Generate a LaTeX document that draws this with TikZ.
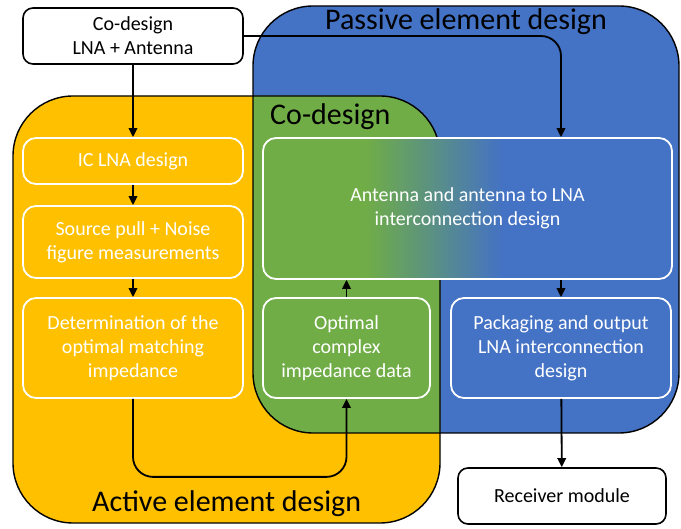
\documentclass[tikz,border=0pt]{standalone}
\usepackage{fontspec}
\setmainfont{Carlito}
\usetikzlibrary{arrows.meta,calc}

\definecolor{actyellow}{HTML}{FFC000}
\definecolor{cogreen}{HTML}{70AD47}
\definecolor{pasblue}{HTML}{4472C4}

\tikzset{
  bodytext/.style={font=\fontsize{20}{24}\selectfont, align=center},
  headtext/.style={font=\fontsize{30}{34}\selectfont, text=black, inner sep=0pt, anchor=base west},
  whitebox/.style={bodytext, draw=black, line width=1.6pt, fill=white,
    rounded corners=10pt, inner sep=0pt, text=black},
  stagebox/.style={bodytext, draw=white, line width=1.8pt,
    rounded corners=13pt, inner sep=0pt, text=white},
  arr/.style={line width=1.8pt, -{Triangle[length=9pt,width=8.5pt]}},
  frame/.style={line width=1.4pt, rounded corners=60pt}
}

\begin{document}
\begin{tikzpicture}[x=1pt,y=-1pt]
\useasboundingbox (0,0) rectangle (681,529);

% design domains: passive (blue), active (yellow) and their overlap (green)
\def\passiveframe{(253,6) rectangle (679,433)}
\def\activeframe{(13,96) rectangle (440,523)}
\fill[pasblue, frame] \passiveframe;
\fill[actyellow, frame] \activeframe;
\begin{scope}
  \clip[rounded corners=60pt] \activeframe;
  \fill[cogreen, frame] \passiveframe;
\end{scope}
\draw[frame] \passiveframe;
\draw[frame] \activeframe;

% domain titles
\node[headtext] (tpas) at (325,30) {Passive element design};
\node[headtext] (tco) at (270,125) {Co-design};
\node[headtext] (tact) at (92,512) {Active element design};

% start and end blocks
\node[whitebox, minimum width=220pt, minimum height=56pt] (cd) at (133,36)
  {Co-design\\LNA + Antenna};
\node[whitebox, minimum width=208pt, minimum height=56pt] (rx) at (562,496)
  {Receiver module};

% active chain
\node[stagebox, fill=actyellow, minimum width=220pt, minimum height=46pt] (ic) at (133,161)
  {IC LNA design};
\node[stagebox, fill=actyellow, minimum width=220pt, minimum height=72pt] (sp) at (133,242)
  {Source pull + Noise\\figure measurements};
\node[stagebox, fill=actyellow, minimum width=220pt, minimum height=100pt] (det) at (133,348)
  {Determination of the\\optimal matching\\impedance};

% co-design blocks
\node[stagebox, fill=cogreen, minimum width=167pt, minimum height=100pt] (opt) at (346.5,348)
  {Optimal\\complex\\impedance data};
% the shared block blends from the co-design green into the passive blue
\node[stagebox, minimum width=409pt, minimum height=141pt,
  path picture={
    \begin{scope}[sharp corners]
      \coordinate (nw) at (path picture bounding box.north west);
      \coordinate (ne) at (path picture bounding box.north east);
      \coordinate (sw) at (path picture bounding box.south west);
      \coordinate (se) at (path picture bounding box.south east);
      \fill[cogreen] (nw) rectangle ($(sw)!0.251!(se)$);
      \foreach \i in {0,...,69}{
        \pgfmathsetmacro{\mix}{100*\i/69}
        \pgfmathsetmacro{\fa}{0.2494+0.00485*\i}
        \pgfmathsetmacro{\fb}{0.2494+0.00485*\i+0.0062}
        \fill[pasblue!\mix!cogreen] ($(nw)!\fa!(ne)$) rectangle ($(sw)!\fb!(se)$);
      }
      \fill[pasblue] ($(nw)!0.587!(ne)$) rectangle (se);
    \end{scope}
  }] (ant) at (467.5,208.5)
  {Antenna and antenna to LNA\\interconnection design};

% passive block
\node[stagebox, fill=pasblue, minimum width=220pt, minimum height=100pt] (pack) at (561,348)
  {Packaging and output\\LNA interconnection\\design};

% flow
\draw[arr] (cd) -- (ic);
\draw[arr] (ic) -- (sp);
\draw[arr] (sp) -- (det);
\draw[arr, rounded corners=20pt] (cd.east) -| (ant.north -| pack.north);
\draw[arr, rounded corners=20pt] (det.south) -- ++(0,78) -| (opt.south);
\draw[arr] (opt) -- (opt.north |- ant.south);
\draw[arr] (ant.south -| pack.north) -- (pack);
\draw[arr] (pack) -- (rx);
\end{tikzpicture}
\end{document}
